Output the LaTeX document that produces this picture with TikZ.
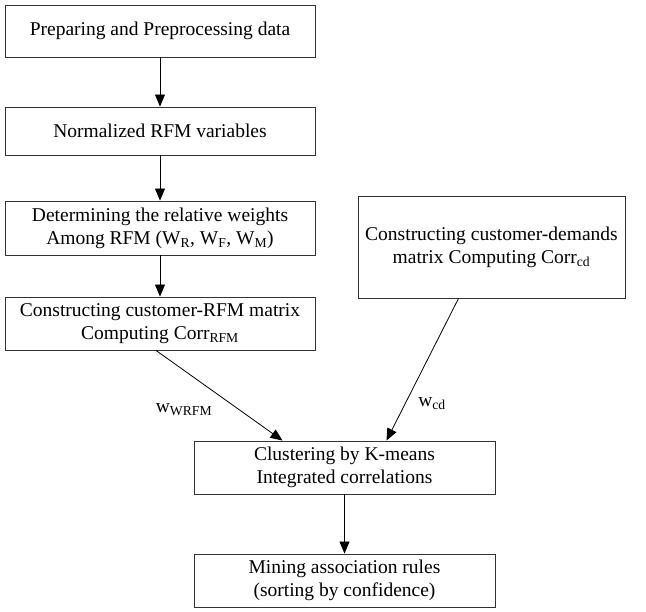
\documentclass[tikz,border=0pt]{standalone}
\usepackage{fontspec}
\setmainfont{Liberation Serif}
\usetikzlibrary{arrows.meta}
\begin{document}
\begin{tikzpicture}[x=1pt,y=-1pt]
\useasboundingbox (0,0) rectangle (646,612);
\tikzset{stepbox/.style={draw=black!80,line width=0.9pt,align=center,inner sep=0pt,
  font=\fontsize{19.5}{23}\selectfont}};
\tikzset{flow/.style={-{Triangle[length=12pt,width=10pt]},line width=0.8pt}};

\node[stepbox,minimum width=310,minimum height=52] (prep) at (160,31) {Preparing and Preprocessing data};
\node[stepbox,minimum width=310,minimum height=48] (norm) at (160,131) {Normalized RFM variables};
\node[stepbox,minimum width=310,minimum height=54] (weights) at (160,228)
  {Determining the relative weights\\Among RFM (W\textsubscript{R}, W\textsubscript{F}, W\textsubscript{M})};
\node[stepbox,minimum width=310,minimum height=53] (rfm) at (160,323.5)
  {Constructing customer-RFM matrix\\Computing Corr\textsubscript{RFM}};

\node[stepbox,minimum width=267,minimum height=102] (demand) at (491.5,247)
  {Constructing customer-demands\\matrix Computing Corr\textsubscript{cd}};

\node[stepbox,minimum width=301,minimum height=53] (kmeans) at (344.5,467.5)
  {Clustering by K-means\\Integrated correlations};
\node[stepbox,minimum width=301,minimum height=53] (rules) at (344.5,580.5)
  {Mining association rules\\(sorting by confidence)};

\node[font=\fontsize{19.5}{23}\selectfont] (wrfm) at (184,410) {w\textsubscript{WRFM}};
\node[font=\fontsize{19.5}{23}\selectfont] (wcd) at (432,404) {w\textsubscript{cd}};

\path ([xshift=-4]rfm.south) edge [flow] ([xshift=-62]kmeans.north);
\path ([xshift=-33]demand.south) edge [flow] ([xshift=42]kmeans.north);
\path (prep) edge [flow] (norm);
\path (norm) edge [flow] (weights);
\path (weights) edge [flow] (rfm);
\path (kmeans) edge [flow] (rules);
\end{tikzpicture}
\end{document}
